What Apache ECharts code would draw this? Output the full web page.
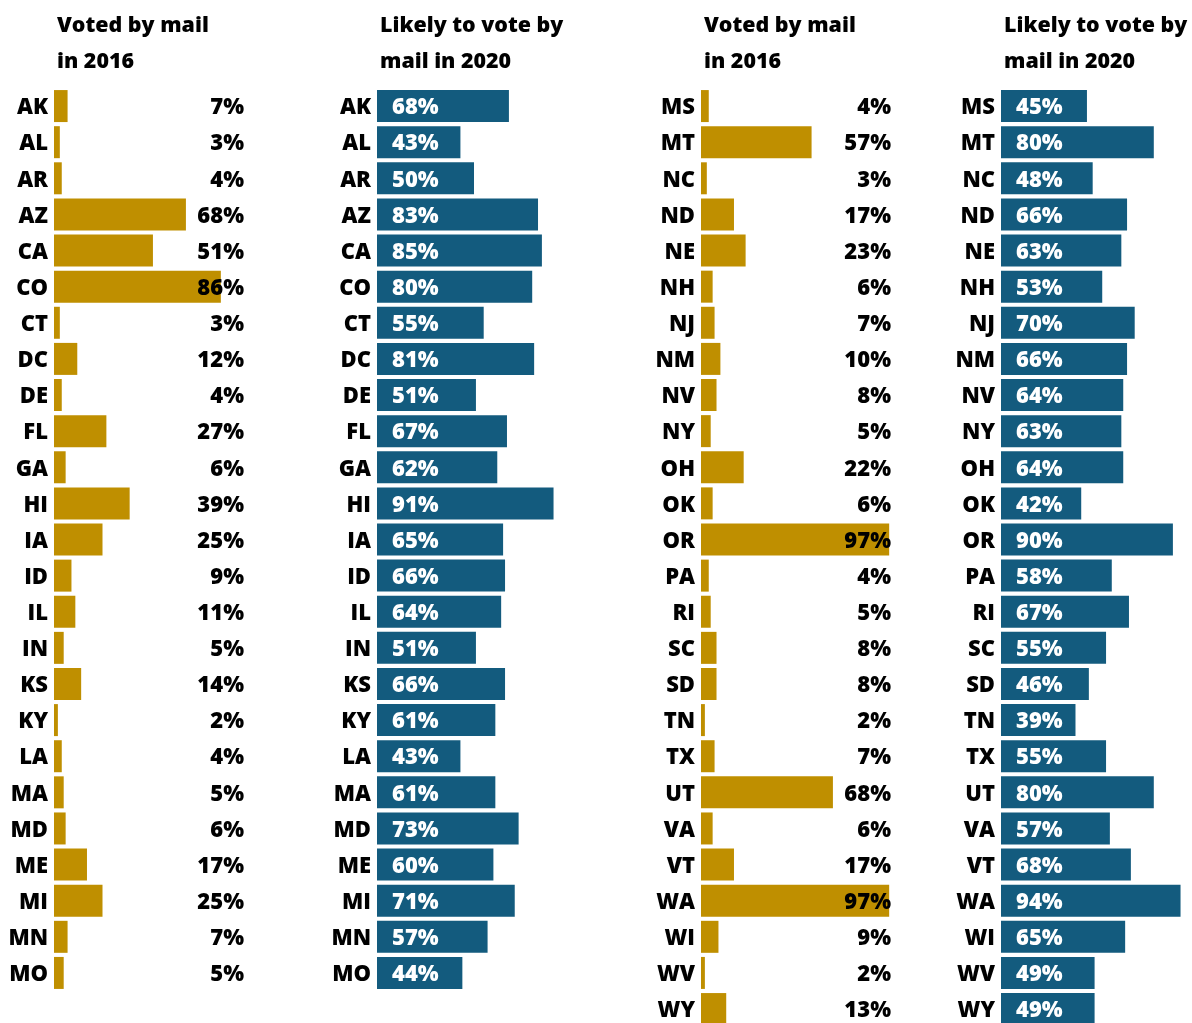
<!DOCTYPE html>
<html><head><meta charset="utf-8">
<script src="https://cdn.jsdelivr.net/npm/echarts@6/dist/echarts.min.js"></script>
<style>html,body{margin:0;padding:0;background:#fff;overflow:hidden}#c{width:1192px;height:1032px}</style>
</head><body><div id="c"></div>
<script>
const statesLeft = ['AK','AL','AR','AZ','CA','CO','CT','DC','DE','FL','GA','HI','IA','ID','IL','IN','KS','KY','LA','MA','MD','ME','MI','MN','MO'];
const voted2016Left = [7,3,4,68,51,86,3,12,4,27,6,39,25,9,11,5,14,2,4,5,6,17,25,7,5];
const likely2020Left = [68,43,50,83,85,80,55,81,51,67,62,91,65,66,64,51,66,61,43,61,73,60,71,57,44];
const statesRight = ['MS','MT','NC','ND','NE','NH','NJ','NM','NV','NY','OH','OK','OR','PA','RI','SC','SD','TN','TX','UT','VA','VT','WA','WI','WV','WY'];
const voted2016Right = [4,57,3,17,23,6,7,10,8,5,22,6,97,4,5,8,8,2,7,68,6,17,97,9,2,13];
const likely2020Right = [45,80,48,66,63,53,70,66,64,63,64,42,90,58,67,55,46,39,55,80,57,68,94,65,49,49];
const titles = ['Voted by mail\nin 2016','Likely to vote by\nmail in 2020','Voted by mail\nin 2016','Likely to vote by\nmail in 2020'];

const GOLD = '#BF8F00', BLUE = '#135B7E';
const FONT = 'Open Sans';
const FS = 22;
const ROW = 36.12;
const TOP = 88;
const lefts = [54, 377, 701, 1001];
const PW = 194;

const panels = [
  {cats: statesLeft, vals: voted2016Left, gold: true},
  {cats: statesLeft, vals: likely2020Left, gold: false},
  {cats: statesRight, vals: voted2016Right, gold: true},
  {cats: statesRight, vals: likely2020Right, gold: false}
];

const grid = [], xAxis = [], yAxis = [], series = [], title = [];
panels.forEach((p, i) => {
  grid.push({left: lefts[i], top: TOP, width: PW, height: p.cats.length * ROW});
  xAxis.push({gridIndex: i, type: 'value', min: 0, max: 100, show: false});
  yAxis.push({gridIndex: i, type: 'category', data: p.cats, inverse: true,
    axisLine: {show: false}, axisTick: {show: false}, splitLine: {show: false},
    axisLabel: {margin: 6, formatter: '{s|{value}}',
      rich: {s: {color: '#000', fontFamily: FONT, fontWeight: 800, fontSize: FS, padding: [4, 0, 0, 0]}}}});
  series.push({type: 'bar', xAxisIndex: i, yAxisIndex: i, data: p.vals, barWidth: 32,
    itemStyle: {color: p.gold ? GOLD : BLUE},
    label: p.gold ? {show: true, position: [190, '50%'], align: 'right', verticalAlign: 'middle', offset: [0, 2],
        formatter: '{c}%', color: '#000', fontFamily: FONT, fontWeight: 800, fontSize: FS}
      : {show: true, position: 'insideLeft', distance: 15, offset: [0, 2], formatter: '{c}%', color: '#fff',
        fontFamily: FONT, fontWeight: 800, fontSize: FS},
    silent: true, animation: false});
  title.push({text: titles[i], left: lefts[i] + 3, top: 8, padding: 0,
    textStyle: {fontFamily: FONT, fontWeight: 800, fontSize: 21.4, color: '#000', lineHeight: 36}});
});

const chart = echarts.init(document.getElementById('c'));
chart.setOption({animation: false, title, grid, xAxis, yAxis, series});
</script></body></html>
